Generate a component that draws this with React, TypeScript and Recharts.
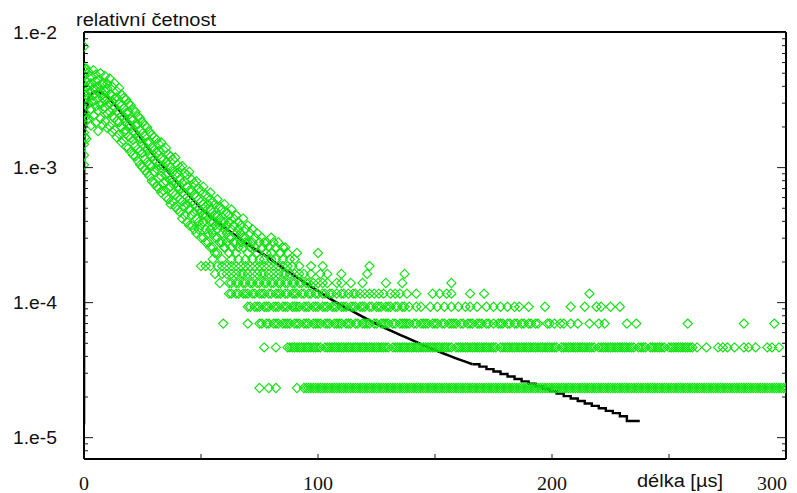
import { ComposedChart, Scatter, Line, XAxis, YAxis, ReferenceLine } from 'recharts';

// relative frequency = count / TOTAL
const TOTAL = 42900;

// fitted curve [délka µs, relativní četnost]
const fitCurve: [number, number][] = [
  [0, 1.25e-5], [0.05, 1.5e-3], [0.9, 2.4e-3], [1.9, 3.2e-3], [3, 3.5e-3], [4.7, 3.68e-3],
  [7.6, 3.57e-3], [10.3, 3.3e-3], [14, 2.8e-3], [17.6, 2.34e-3], [22, 1.88e-3], [26, 1.5e-3],
  [30, 1.22e-3], [35, 9.7e-4], [40, 7.7e-4], [45, 6.2e-4], [50, 5.0e-4], [56, 4.05e-4],
  [63, 3.3e-4], [70, 2.7e-4], [78, 2.2e-4], [85, 1.8e-4], [92, 1.5e-4], [100, 1.22e-4],
  [108, 1.0e-4], [116, 8.4e-5], [124, 7.1e-5], [132, 6.1e-5], [140, 5.3e-5], [148, 4.6e-5],
  [156, 4.05e-5], [166, 3.5e-5],
];

// stepped end of the fit
const fitTail: [number, number][] = [
  [166, 3.5e-5], [169, 3.36e-5], [172, 3.22e-5], [175, 3.09e-5], [178, 2.96e-5], [181, 2.84e-5],
  [184, 2.72e-5], [187, 2.61e-5], [190, 2.51e-5], [193, 2.4e-5], [196, 2.3e-5], [199, 2.21e-5],
  [202, 2.12e-5], [205, 2.03e-5], [208, 1.95e-5], [211, 1.87e-5], [214, 1.79e-5], [217, 1.72e-5],
  [220, 1.65e-5], [223, 1.58e-5], [226, 1.52e-5], [229, 1.44e-5], [232, 1.33e-5], [237.5, 1.33e-5],
];

// measured counts in the busy part: [délka, counts at that délka]
const cloudRows: [number, number[]][] = [
  [0, [338, 236, 204, 178, 152, 131, 110, 92, 78, 64, 53, 45]],
  [0.5, [221, 168, 139, 101, 72]],
  [1, [232, 186, 149, 124, 96, 70]],
  [2, [219, 174, 141, 128, 99]],
  [3, [203, 181, 155, 116, 88]],
  [4, [226, 166, 146, 133, 104]],
  [5, [209, 188, 161, 122, 92]],
  [6, [192, 172, 138, 114, 80]],
  [7, [214, 160, 151, 126, 99]],
  [8, [183, 176, 140, 117, 89]],
  [9, [205, 157, 134, 120, 95]],
  [10, [179, 165, 138, 108, 84]],
  [11, [196, 150, 128, 111, 87]],
  [12, [171, 146, 133, 103, 79]],
  [13, [181, 139, 121, 100, 82]],
  [14, [158, 142, 112, 95, 72]],
  [15, [167, 127, 109, 93, 76]],
  [16, [149, 124, 104, 85, 66]],
  [17, [141, 118, 100, 79, 68]],
  [18, [137, 109, 94, 81, 61]],
  [19, [128, 111, 88, 73, 60]],
  [20, [124, 98, 87, 71, 56]],
  [21, [115, 97, 80, 69, 53]],
  [22, [111, 88, 77, 62, 52]],
  [23, [103, 90, 72, 59, 48]],
  [24, [99, 81, 70, 57, 45]],
  [25, [93, 77, 64, 55, 43]],
  [26, [88, 73, 61, 50, 41]],
  [27, [85, 66, 58, 47, 39]],
  [28, [79, 66, 54, 45, 37]],
  [29, [75, 61, 52, 44, 34]],
  [30, [72, 58, 49, 40, 33]],
  [31, [69, 55, 47, 42, 31]],
  [32, [64, 57, 45, 36, 30]],
  [33, [66, 50, 43, 37, 28]],
  [34, [58, 49, 44, 33, 29]],
  [35, [60, 47, 38, 34, 26]],
  [36, [54, 45, 39, 30, 25]],
  [37, [52, 43, 35, 31, 23]],
  [38, [49, 40, 34, 28, 24]],
  [39, [51, 38, 33, 27, 22]],
  [40, [45, 39, 31, 26, 21]],
  [41, [43, 35, 30, 25, 20]],
  [42, [44, 33, 28, 24, 18]],
  [43, [39, 34, 27, 22, 19]],
  [44, [38, 31, 26, 23, 17]],
  [45, [40, 29, 25, 21, 16]],
  [46, [35, 29, 24, 19, 16]],
  [47, [33, 27, 23, 20, 15]],
  [48, [34, 26, 22, 18, 14]],
  [49, [30, 25, 21, 17, 15]],
  [50, [29, 24, 20, 16, 13]],
  [51, [31, 23, 19, 17, 13]],
  [52, [27, 22, 19, 15, 12]],
  [53, [26, 23, 18, 14, 12]],
  [54, [28, 21, 17, 15, 11]],
  [55, [24, 20, 17, 14, 11]],
  [56, [23, 19, 16, 13, 10]],
  [57, [25, 19, 15, 13]],
  [58, [22, 18, 16, 12]],
  [59, [21, 17, 14, 12]],
  [60, [23, 17, 15, 11]],
  [61, [20, 16, 14]],
  [62, [19, 17, 13]],
  [63, [21, 15, 13]],
  [64, [18, 16, 12]],
  [65, [19, 14, 12]],
  [66, [17, 15]],
  [67, [16, 14]],
  [68, [18, 13]],
  [69, [15, 13]],
  [70, [16, 12]],
  [71, [14]],
  [72, [15]],
  [73, [13]],
  [74, [14]],
  [76, [13]],
  [78, [12]],
  [80, [13]],
  [83, [12]],
  [86, [11]],
];

// délka values where the count is a small whole number
const band12 = [58, 61, 64, 67, 69, 72, 75, 77, 81];
const band11 = [60, 63, 66, 68, 71, 73, 76, 79, 82, 85];
const band10 = [57, 62, 65, 70, 74, 78, 80, 84, 87, 91, 100];
const band9 = [55, 59, 63, 66, 69, 72, 75, 77, 80, 82, 85, 88, 90];
const band8 = [50, 52, 54, 57, 59, 61, 63, 65, 67, 69, 71, 73, 75, 77, 79, 81, 83, 85, 87, 89, 92, 97, 102, 122];
const band7 = [56, 59, 61, 63, 65, 67, 68, 70, 72, 74, 76, 77, 79, 81, 83, 85, 86, 88, 90, 92, 94, 97, 101, 104, 110, 121, 137];
const band6 = [58, 62, 63, 65, 66, 68, 69, 71, 72, 74, 75, 77, 78, 80, 81, 83, 84, 86, 87, 89, 90, 92, 93, 95, 96, 98, 100, 102, 104, 108, 110, 114, 119, 129, 136, 157];
const band5 = [62, 63, 65, 66, 68, 69, 70, 72, 73, 75, 76, 77, 79, 80, 82, 83, 84, 86, 87, 89, 90, 91, 93, 94, 96, 97, 99, 100, 102, 103, 105, 106, 108, 110, 111, 113, 115, 116, 118, 120, 122, 124, 126, 128, 131, 133, 135, 138, 142, 149, 152, 155, 157, 165, 171, 216];
const band4 = [70, 71, 73, 74, 75, 77, 78, 79, 81, 82, 83, 85, 86, 87, 89, 90, 91, 92, 94, 95, 96, 98, 99, 100, 102, 103, 104, 106, 107, 108, 110, 111, 112, 114, 115, 116, 118, 119, 120, 122, 123, 125, 126, 127, 129, 130, 131, 133, 134, 136, 137, 139, 142, 144, 148, 151, 154, 157, 160, 163, 165, 168, 172, 175, 178, 181, 184, 186, 190, 197, 208, 214, 219, 221, 225, 229];
const band3 = [59.5, 70, 75, 76, 78, 79, 81, 82, 83, 85, 86, 87, 88, 90, 91, 92, 94, 95, 96, 98, 99, 100, 101, 103, 104, 105, 107, 108, 109, 110, 112, 113, 114, 116, 117, 119, 120, 121, 122, 124, 125, 127, 128, 129, 130, 132, 133, 135, 136, 137, 138, 139, 141, 142, 144, 145, 146, 147, 149, 150, 151, 153, 154, 156, 157, 158, 159, 161, 162, 164, 165, 166, 168, 169, 170, 172, 173, 175, 177, 178, 179, 181, 182, 184, 185, 187, 188, 190, 191, 193, 194, 198, 199, 201, 203.5, 205, 208, 211, 216, 220, 222.5, 232, 236, 258, 282, 295];
const band2 = [77, 82, 87, 88, 89, 90, 91, 92, 93, 94, 95, 96, 97, 98, 99, 100, 101, 103, 104, 105, 106, 107, 108, 109, 110, 111, 112, 113, 114, 115, 116, 117, 118, 119, 120, 121, 122, 123, 124, 125, 126, 127, 128, 129, 130, 132, 133, 134, 135, 136, 137, 138, 139, 140, 141, 142, 143, 144, 145, 146, 147, 148, 149, 150, 151, 152, 153, 154, 155, 156, 157, 159, 160, 161, 162, 163, 164, 165, 166, 167, 168, 169, 170, 171, 172, 173, 174, 175, 176, 178, 179, 180, 181, 182, 183, 184, 185, 186, 187, 188, 189, 190, 191, 192, 193, 194, 195, 196, 197, 198, 199, 200, 201, 202, 204, 205, 206, 207, 208, 209, 210, 211, 212, 213, 214, 215, 216, 217, 218, 220, 221, 222, 223, 224, 225, 226, 227, 228, 229, 230, 231, 232, 233, 234, 235, 237, 238, 239, 240, 242, 243, 244, 245, 246, 247, 248, 250, 251, 252, 253, 254, 255, 256, 257, 258, 259, 260, 262, 266, 271, 273, 275, 278, 282, 284, 287, 292, 294, 297];
const band1 = [75, 79, 82, 91, 94, 95, 96, 97, 98, 99, 100, 101, 102, 103, 104, 105, 106, 107, 108, 109, 110, 111, 112, 113, 114, 115, 116, 117, 118, 119, 120, 121, 122, 123, 124, 125, 126, 127, 128, 129, 130, 131, 132, 133, 134, 135, 136, 137, 138, 139, 140, 141, 142, 143, 144, 145, 146, 147, 148, 149, 150, 151, 152, 153, 154, 155, 156, 157, 158, 159, 160, 161, 162, 163, 164, 165, 166, 167, 168, 169, 170, 171, 172, 173, 174, 175, 176, 177, 178, 179, 180, 181, 182, 183, 184, 185, 186, 187, 188, 189, 190, 191, 192, 193, 194, 195, 196, 197, 198, 199, 200, 201, 202, 203, 204, 205, 206, 207, 208, 209, 210, 211, 212, 213, 214, 215, 216, 217, 218, 219, 220, 221, 222, 223, 224, 225, 226, 227, 228, 229, 230, 231, 232, 233, 234, 235, 236, 237, 238, 239, 240, 241, 242, 243, 244, 245, 246, 247, 248, 249, 250, 251, 252, 253, 254, 255, 256, 257, 258, 259, 260, 261, 262, 263, 264, 265, 266, 267, 268, 269, 270, 271, 272, 273, 274, 275, 276, 277, 278, 279, 280, 281, 282, 283, 284, 285, 286, 287, 288, 289, 290, 291, 292, 293, 294, 295, 296, 297, 298, 299, 300];

const bands: [number, number[]][] = [
  [1, band1], [2, band2], [3, band3], [4, band4], [5, band5], [6, band6],
  [7, band7], [8, band8], [9, band9], [10, band10], [11, band11], [12, band12],
];

const X_DOMAIN: [number, number] = [0, 300];
const xTicks = [0, 50, 100, 150, 200, 250, 300];
const xLabels: Record<number, string> = { 0: '0', 100: '100', 200: '200', 300: '300' };

const yTicks = [
  8e-6, 9e-6,
  1e-5, 2e-5, 3e-5, 4e-5, 5e-5, 6e-5, 7e-5, 8e-5, 9e-5,
  1e-4, 2e-4, 3e-4, 4e-4, 5e-4, 6e-4, 7e-4, 8e-4, 9e-4,
  1e-3, 2e-3, 3e-3, 4e-3, 5e-3, 6e-3, 7e-3, 8e-3, 9e-3,
  1e-2,
];
const yMajor = [1e-5, 1e-4, 1e-3, 1e-2];
const yLabels = ['1.e-5', '1.e-4', '1.e-3', '1.e-2'];

const Y_DOMAIN: [number, number] = [6.95e-6, 0.0101];

const scatterData = [
  ...cloudRows.flatMap(([x, counts]) => counts.map((c) => ({ x, y: c / TOTAL }))),
  ...bands.flatMap(([count, xs]) => xs.map((x) => ({ x, y: count / TOTAL }))),
];
const curveData = fitCurve.map(([x, y]) => ({ x, y }));
const tailData = fitTail.map(([x, y]) => ({ x, y }));

const AXIS = '#1a1a1a';
const GREEN = '#12e212';
const SANS = "'Liberation Sans', Arial, sans-serif";
const SERIF = "'Liberation Serif', 'Times New Roman', serif";

function Diamond(props: any) {
  const { cx, cy } = props;
  if (cx == null || cy == null) return null;
  const r = 4.6;
  return (
    <path
      d={`M${cx},${cy - r}L${cx + r},${cy}L${cx},${cy + r}L${cx - r},${cy}Z`}
      fill="none"
      stroke={GREEN}
      strokeWidth={1.15}
    />
  );
}

function LeftTick(props: any) {
  const { x, y, payload } = props;
  const i = yMajor.indexOf(payload.value);
  return (
    <g>
      <line x1={x} x2={x + (i >= 0 ? 9 : 4)} y1={y} y2={y} stroke={AXIS} strokeWidth={1} />
      {i >= 0 && (
        <text x={13} y={y + 6.5} fontFamily={SANS} fontSize={18} fill="#111" textLength={44} lengthAdjust="spacingAndGlyphs">
          {yLabels[i]}
        </text>
      )}
    </g>
  );
}

function RightTick(props: any) {
  const { x, y, payload } = props;
  const major = yMajor.indexOf(payload.value) >= 0;
  return <line x1={x} x2={x - (major ? 9 : 4)} y1={y} y2={y} stroke={AXIS} strokeWidth={1} />;
}

function BottomTick(props: any) {
  const { x, y, payload } = props;
  const label = xLabels[payload.value];
  const w = label ? label.length * 10 : 0;
  // last label is pulled inside so it ends at the frame
  const left = payload.value === 300 ? x + 1 - w : x - w / 2;
  return (
    <g>
      <line x1={x} x2={x} y1={y} y2={y - 5} stroke={AXIS} strokeWidth={1} />
      {label && (
        <text x={left} y={y + 31} fontFamily={SERIF} fontSize={18} fill="#111" textLength={w} lengthAdjust="spacingAndGlyphs">
          {label}
        </text>
      )}
    </g>
  );
}

function TopTick(props: any) {
  const { x, y } = props;
  return <line x1={x} x2={x} y1={y} y2={y + 5} stroke={AXIS} strokeWidth={1} />;
}

export default function App() {
  return (
    <div style={{ position: 'absolute', left: 0, top: 0, width: 797, height: 493, background: '#fff' }}>
      <ComposedChart width={797} height={493} margin={{ top: 0, right: 0, bottom: 0, left: 0 }}>
        <XAxis
          xAxisId="bottom"
          dataKey="x"
          type="number"
          domain={X_DOMAIN}
          allowDataOverflow
          ticks={xTicks}
          interval={0}
          height={34}
          tickSize={0}
          tickMargin={0}
          tick={BottomTick}
          axisLine={false}
        />
        <XAxis
          xAxisId="top"
          orientation="top"
          type="number"
          domain={X_DOMAIN}
          allowDataOverflow
          ticks={xTicks}
          interval={0}
          height={32}
          tickSize={0}
          tickMargin={0}
          tick={TopTick}
          axisLine={false}
        />
        <YAxis
          yAxisId="left"
          dataKey="y"
          type="number"
          scale="log"
          domain={Y_DOMAIN}
          allowDataOverflow
          ticks={yTicks}
          interval={0}
          width={84}
          tickSize={0}
          tickMargin={0}
          tick={LeftTick}
          axisLine={false}
        />
        <YAxis
          yAxisId="right"
          orientation="right"
          type="number"
          scale="log"
          domain={Y_DOMAIN}
          allowDataOverflow
          ticks={yTicks}
          interval={0}
          width={11}
          tickSize={0}
          tickMargin={0}
          tick={RightTick}
          axisLine={false}
        />
        <Scatter
          data={scatterData}
          dataKey="y"
          xAxisId="bottom"
          yAxisId="left"
          shape={Diamond}
          isAnimationActive={false}
        />
        <Line
          data={curveData}
          dataKey="y"
          xAxisId="bottom"
          yAxisId="left"
          type="monotone"
          dot={false}
          stroke="#000"
          strokeWidth={2.6}
          isAnimationActive={false}
        />
        <Line
          data={tailData}
          dataKey="y"
          xAxisId="bottom"
          yAxisId="left"
          type="stepAfter"
          dot={false}
          stroke="#000"
          strokeWidth={2.4}
          isAnimationActive={false}
        />
        {/* plot frame */}
        <ReferenceLine xAxisId="bottom" yAxisId="left" x={X_DOMAIN[0]} stroke="#000" strokeWidth={2} ifOverflow="visible" />
        <ReferenceLine xAxisId="bottom" yAxisId="left" x={X_DOMAIN[1]} stroke="#000" strokeWidth={2} ifOverflow="visible" />
        <ReferenceLine xAxisId="bottom" yAxisId="left" y={Y_DOMAIN[0]} stroke="#000" strokeWidth={2} ifOverflow="visible" />
        <ReferenceLine xAxisId="bottom" yAxisId="left" y={Y_DOMAIN[1]} stroke="#000" strokeWidth={2} ifOverflow="visible" />
      </ComposedChart>
      <svg width={797} height={493} style={{ position: 'absolute', left: 0, top: 0, pointerEvents: 'none' }}>
        <text x={76} y={26} fontFamily={SANS} fontSize={18} fill="#111" textLength={140} lengthAdjust="spacingAndGlyphs">
          relativní četnost
        </text>
        <text x={637} y={487} fontFamily={SANS} fontSize={18} fill="#111" textLength={86} lengthAdjust="spacingAndGlyphs">
          délka [µs]
        </text>
      </svg>
    </div>
  );
}
